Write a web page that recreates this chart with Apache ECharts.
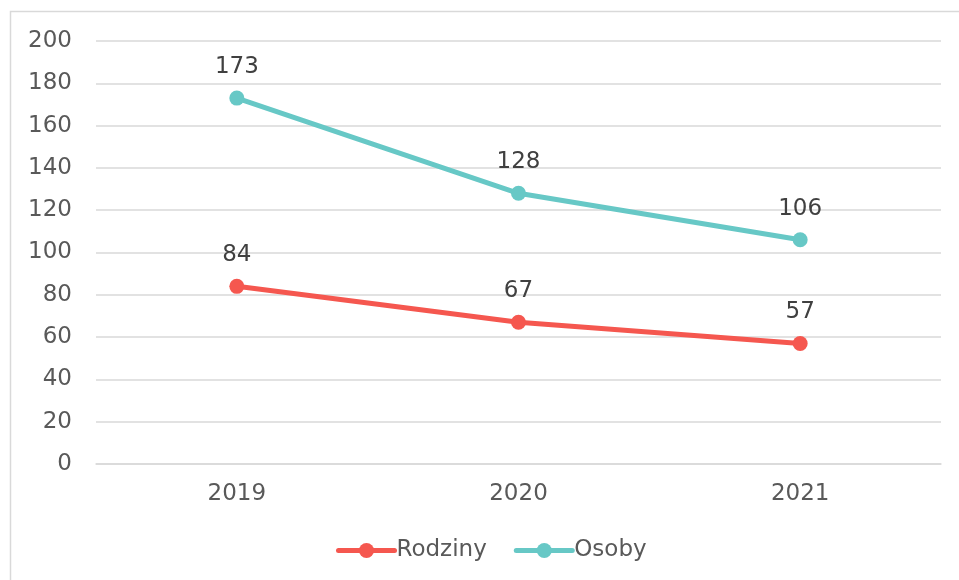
<!DOCTYPE html>
<html>
<head>
<meta charset="utf-8">
<script src="https://cdn.jsdelivr.net/npm/echarts@6/dist/echarts.min.js"></script>
<style>
  html, body { margin: 0; padding: 0; background: #fff; }
  #chart { width: 959px; height: 580px; }
</style>
</head>
<body>
<div id="chart"></div>
<script>
// Years on the x axis
const years = ['2019', '2020', '2021'];
// Number of families and persons per year
const rodziny = [84, 67, 57];
const osoby = [173, 128, 106];
// Value axis range
const yMin = 0;
const yMax = 200;
const yStep = 20;

const FONT = '"DejaVu Sans", Verdana, sans-serif';
const RED = '#F5574F';
const TEAL = '#67C8C6';

const chart = echarts.init(document.getElementById('chart'), null, { renderer: 'canvas' });

function lineSeries(name, data, color) {
  return {
    name: name,
    type: 'line',
    data: data,
    symbol: 'circle',
    symbolSize: 15,
    lineStyle: { color: color, width: 5 },
    itemStyle: { color: color },
    label: {
      show: true,
      position: 'top',
      distance: 12,
      color: '#404040',
      fontFamily: FONT,
      fontSize: 23
    },
    emphasis: { disabled: true },
    animation: false
  };
}

chart.setOption({
  animation: false,
  backgroundColor: '#fff',
  graphic: [{
    type: 'polyline',
    shape: { points: [[10.5, 600], [10.5, 11.5], [970, 11.5]] },
    style: { stroke: '#d9d9d9', lineWidth: 1.5, fill: null },
    silent: true
  }],
  grid: { left: 96, right: 18, top: 41, bottom: 116 },
  legend: {
    bottom: 13,
    left: 331,
    itemWidth: 56,
    itemHeight: 19,
    itemGap: 27,
    lineStyle: { width: 5, cap: 'round' },
    textStyle: { color: '#595959', fontFamily: FONT, fontSize: 23, padding: [0, 0, 0, -3] },
    data: ['Rodziny', 'Osoby']
  },
  xAxis: {
    type: 'category',
    data: years,
    boundaryGap: true,
    axisLine: { show: true, lineStyle: { color: '#d9d9d9', width: 1.5 } },
    axisTick: { show: false },
    axisLabel: { color: '#595959', fontFamily: FONT, fontSize: 23, margin: 19 }
  },
  yAxis: {
    type: 'value',
    min: yMin,
    max: yMax,
    interval: yStep,
    axisLine: { show: false },
    axisTick: { show: false },
    splitLine: { lineStyle: { color: '#d9d9d9', width: 1.5 } },
    axisLabel: { color: '#595959', fontFamily: FONT, fontSize: 23, margin: 24 }
  },
  series: [
    lineSeries('Rodziny', rodziny, RED),
    lineSeries('Osoby', osoby, TEAL)
  ]
});
</script>
</body>
</html>
